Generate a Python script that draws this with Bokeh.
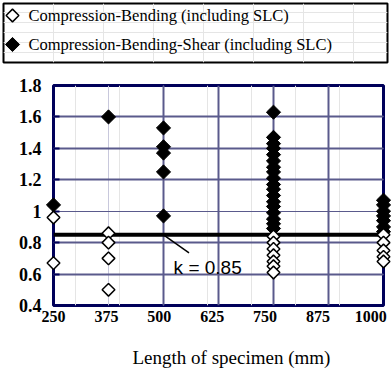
import numpy as np
from bokeh.plotting import figure
from bokeh.layouts import column
from bokeh.models import Range1d, FixedTicker, LinearAxis, Grid, Span, Label
from bokeh.core.properties import value
from bokeh.embed import file_html
from bokeh.resources import INLINE

# Compression-Bending specimens (open diamonds): length (mm) and k
cb_length = [250, 250,
             375, 375, 375, 375,
             750, 750, 750, 750, 750, 750, 750,
             1000, 1000, 1000, 1000, 1000]
cb_k = [0.96, 0.67,
        0.86, 0.80, 0.70, 0.50,
        0.84, 0.80, 0.76, 0.72, 0.68, 0.65, 0.61,
        0.85, 0.80, 0.75, 0.71, 0.68]

# Compression-Bending-Shear specimens (filled diamonds)
cbs_length = [250,
              375,
              500, 500, 500, 500, 500,
              750, 750, 750, 750, 750, 750, 750, 750, 750,
              750, 750, 750, 750, 750, 750, 750, 750, 750,
              1000, 1000, 1000, 1000, 1000, 1000, 1000]
cbs_k = [1.04,
         1.60,
         1.53, 1.41, 1.37, 1.25, 0.97,
         1.63, 1.47, 1.43, 1.40, 1.36, 1.32, 1.28, 1.25, 1.21,
         1.17, 1.14, 1.10, 1.06, 1.03, 0.99, 0.95, 0.92, 0.89,
         1.07, 1.04, 1.00, 0.97, 0.94, 0.90, 0.87]

k_value = 0.85

series_labels = ["Compression-Bending (including SLC)",
                 "Compression-Bending-Shear (including SLC)"]
x_title = "Length of specimen (mm)"

x_ticks = [250, 375, 500, 625, 750, 875, 1000]
x_tick_labels = ["250", "375", "500", "625", "750", "875", "1000"]
y_ticks = [0.4, 0.6, 0.8, 1.0, 1.2, 1.4, 1.6, 1.8]
y_tick_labels = ["0.4", "0.6", "0.8", "1", "1.2", "1.4", "1.6", "1.8"]

NAVY = "#00005a"
GRID = "#5a5a8c"
GRID_LIGHT = "#c8c8dc"
SERIF = "Liberation Serif"

# ---- legend strip ----
leg = figure(width=391, height=66, x_range=Range1d(0, 384), y_range=Range1d(0, 59),
             min_border_left=3, min_border_right=4, min_border_top=3, min_border_bottom=4,
             x_axis_location=None, y_axis_location=None, frame_align=False,
             toolbar_location=None, output_backend="svg")
leg.outline_line_color = "black"
leg.outline_line_width = 2
leg.background_fill_color = "white"
leg_rows = [47, 18]
leg.scatter(x=[9], y=[leg_rows[0]], marker="square", angle=np.pi / 4, size=9,
            fill_color="white", line_color="black", line_width=1.5)
leg.scatter(x=[9], y=[leg_rows[1]], marker="square", angle=np.pi / 4, size=10,
            fill_color="black", line_color="black")
leg.text(x=[25, 25], y=leg_rows, text=series_labels, text_baseline="middle",
         text_font=value(SERIF), text_font_size="16.5px", text_color="black")

# ---- main chart ----
p = figure(width=391, height=264, x_range=Range1d(250, 1000), y_range=Range1d(0.4, 1.8),
           min_border_left=53, min_border_right=8, min_border_top=19, min_border_bottom=25,
           x_axis_location=None, y_axis_location=None, frame_align=False,
           toolbar_location=None, output_backend="svg")
p.outline_line_color = NAVY
p.outline_line_width = 3

x_major = [t for t in x_ticks if t not in (250, 375, 1000)]
p.add_layout(Grid(dimension=0, ticker=FixedTicker(ticks=x_major),
                  grid_line_color=GRID, grid_line_width=2))
p.add_layout(Grid(dimension=0, ticker=FixedTicker(ticks=[x_ticks[1]]),
                  grid_line_color=GRID_LIGHT, grid_line_width=1))
y_major = [t for t in y_ticks if t not in (0.4, 1.0, 1.8)]
p.add_layout(Grid(dimension=1, ticker=FixedTicker(ticks=y_major),
                  grid_line_color=GRID, grid_line_width=2))
p.add_layout(Grid(dimension=1, ticker=FixedTicker(ticks=[1.0]),
                  grid_line_color=GRID, grid_line_width=1))

# length labels are packed slightly tighter than the grid lines
p.extra_x_ranges = {"ticklabels": Range1d(250, 1030)}
xaxis = LinearAxis(x_range_name="ticklabels", ticker=FixedTicker(ticks=x_ticks),
                   major_label_overrides=dict(zip(x_ticks, x_tick_labels)))
yaxis = LinearAxis(ticker=FixedTicker(ticks=y_ticks),
                   major_label_overrides=dict(zip(y_ticks, y_tick_labels)))
for ax in (xaxis, yaxis):
    ax.axis_line_color = None
    ax.major_tick_in = 6
    ax.major_tick_out = 0
    ax.major_tick_line_color = NAVY
    ax.major_tick_line_width = 2
    ax.minor_tick_line_color = None
    ax.major_label_text_font = SERIF
    ax.major_label_text_font_style = "bold"
    ax.major_label_text_color = "black"
xaxis.major_tick_line_color = None
xaxis.major_label_text_font_size = "16px"
yaxis.major_label_text_font_size = "18px"
xaxis.major_label_standoff = 5
yaxis.major_label_standoff = 12
p.add_layout(xaxis, "below")
p.add_layout(yaxis, "left")

# k reference line with its callout
p.add_layout(Span(location=k_value, dimension="width", line_color="black", line_width=4))
p.segment(x0=[500], y0=[k_value], x1=[558], y1=[0.735], line_color="black", line_width=1.5)
p.add_layout(Label(x=523, y=0.642, text=f"k = {k_value}", text_baseline="middle",
                   text_font="Liberation Sans", text_font_size="19px", text_color="black"))

r1 = p.scatter(x=cbs_length, y=cbs_k, marker="square", angle=np.pi / 4, size=10,
               fill_color="black", line_color="black", line_width=1)
r2 = p.scatter(x=cb_length, y=cb_k, marker="square", angle=np.pi / 4, size=9,
               fill_color="white", line_color="black", line_width=1.5)
r1.level = "overlay"
r2.level = "overlay"

# ---- axis title strip ----
foot = figure(width=391, height=42, x_range=Range1d(0, 391), y_range=Range1d(0, 42),
              min_border=0, x_axis_location=None, y_axis_location=None, frame_align=False,
              toolbar_location=None, output_backend="svg")
foot.outline_line_color = None
foot.grid.visible = False
foot.text(x=[132], y=[15], text=[x_title], text_baseline="middle", text_align="left",
          text_font=value(SERIF), text_font_size="19px", text_color="black")

layout = column(leg, p, foot, spacing=0)
open("out.html", "w").write(file_html(layout, INLINE))
